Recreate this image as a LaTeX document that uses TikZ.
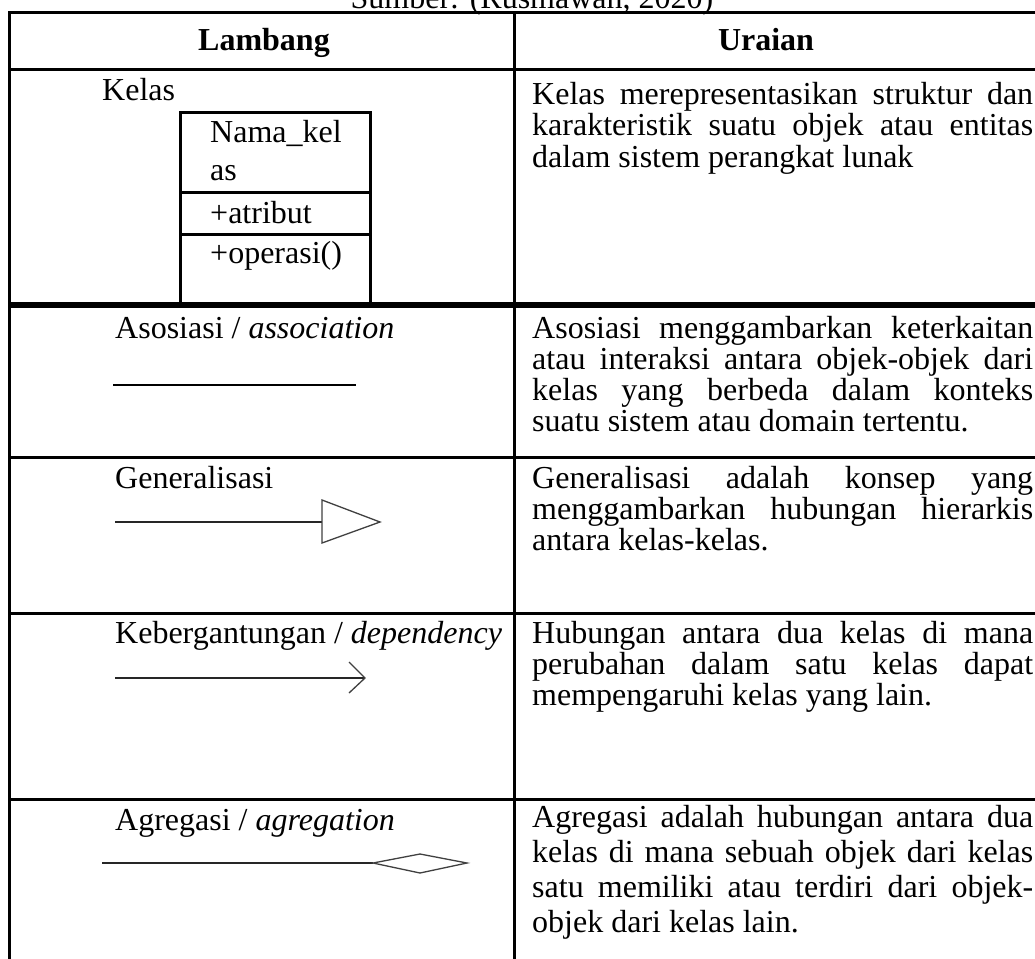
\documentclass[tikz,border=0pt]{standalone}
\usepackage{fontspec}
\setmainfont{Liberation Serif}
% one line of a justified paragraph in the description column
\newcommand\fullline[1]{\makebox[501pt][s]{#1}}
\begin{document}
\begin{tikzpicture}[x=1pt,y=-1pt,
  txt/.style={anchor=base west,inner sep=0pt,font=\fontsize{32}{32}\selectfont},
  head/.style={anchor=base,inner sep=0pt,font=\fontsize{32}{32}\selectfont\bfseries},
  rule/.style={line width=3pt},
  heavyrule/.style={line width=5.5pt},
  boxline/.style={line width=3pt},
  thinsym/.style={line width=1.2pt,black!85},
  symhead/.style={line width=1.3pt,black!75,fill=white,line join=miter}]
\useasboundingbox (0,0) rectangle (1035,958);

% caption, cut at the top edge
\node[anchor=base,inner sep=0pt,font=\fontsize{32}{32}\selectfont] (cap) at (532,9) {Sumber: (Rusmawan, 2020)};

% table rules
\draw[rule] (8,13) -- (1040,13);
\draw[rule] (8,69.5) -- (1040,69.5);
\draw[heavyrule] (8,305) -- (1040,305);
\draw[rule] (8,457.5) -- (1040,457.5);
\draw[rule] (8,613) -- (1040,613);
\draw[rule] (8,799) -- (1040,799);
\draw[rule] (9.5,11.5) -- (9.5,960);
\draw[rule] (514.5,11.5) -- (514.5,960);

% header
\node[head] (hl) at (264,51) {Lambang};
\node[head] (hr) at (766,51) {Uraian};

% row 1: class
\node[txt] (kelas) at (102,100) {Kelas};
\draw[boxline] (180,112) rectangle (370,305);
\draw[boxline] (180,192) -- (370,192);
\draw[boxline] (180,234) -- (370,234);
\node[txt] (nk1) at (210,142) {Nama\_kel};
\node[txt] (nk2) at (210,180) {as};
\node[txt] (atr) at (210,223) {+atribut};
\node[txt] (ops) at (210,263) {+operasi()};
\node[txt] (d1a) at (532,104) {\fullline{Kelas merepresentasikan struktur dan}};
\node[txt] (d1b) at (532,135.5) {\fullline{karakteristik suatu objek atau entitas}};
\node[txt] (d1c) at (532,167) {dalam sistem perangkat lunak};

% row 2: association
\node[txt] (aso) at (115,338) {Asosiasi / \textit{association}};
\coordinate (a1) at (113,385);
\coordinate (a2) at (356,385);
\draw[line width=2.6pt] (a1) -- (a2);
\node[txt] (d2a) at (532,338) {\fullline{Asosiasi menggambarkan keterkaitan}};
\node[txt] (d2b) at (532,369) {\fullline{atau interaksi antara objek-objek dari}};
\node[txt] (d2c) at (532,400) {\fullline{kelas yang berbeda dalam konteks}};
\node[txt] (d2d) at (532,431) {suatu sistem atau domain tertentu.};

% row 3: generalisation
\node[txt] (gen) at (115,488) {Generalisasi};
\coordinate (g1) at (115,522);
\coordinate (g2) at (322,522);
\draw[thinsym] (g1) -- (g2);
\draw[symhead] (322,500) -- (380,522) -- (322,543) -- cycle;
\node[txt] (d3a) at (532,488) {\fullline{Generalisasi adalah konsep yang}};
\node[txt] (d3b) at (532,519) {\fullline{menggambarkan hubungan hierarkis}};
\node[txt] (d3c) at (532,550) {antara kelas-kelas.};

% row 4: dependency
\node[txt] (dep) at (115,643) {Kebergantungan / \textit{dependency}};
\coordinate (k1) at (115,678);
\coordinate (k2) at (365,678);
\draw[thinsym] (k1) -- (k2);
\draw[symhead,fill=none] (349,662) -- (k2) -- (349,693);
\node[txt] (d4a) at (532,643) {\fullline{Hubungan antara dua kelas di mana}};
\node[txt] (d4b) at (532,674) {\fullline{perubahan dalam satu kelas dapat}};
\node[txt] (d4c) at (532,705) {mempengaruhi kelas yang lain.};

% row 5: aggregation
\node[txt] (agr) at (115,830) {Agregasi / \textit{agregation}};
\coordinate (r1) at (102,863);
\coordinate (r2) at (373,863);
\draw[thinsym] (r1) -- (r2);
\draw[symhead] (r2) -- (420,854) -- (467,863) -- (420,873) -- cycle;
\node[txt] (d5a) at (532,827) {\fullline{Agregasi adalah hubungan antara dua}};
\node[txt] (d5b) at (532,862) {\fullline{kelas di mana sebuah objek dari kelas}};
\node[txt] (d5c) at (532,897) {\fullline{satu memiliki atau terdiri dari objek-}};
\node[txt] (d5d) at (532,932) {objek dari kelas lain.};
\end{tikzpicture}
\end{document}
